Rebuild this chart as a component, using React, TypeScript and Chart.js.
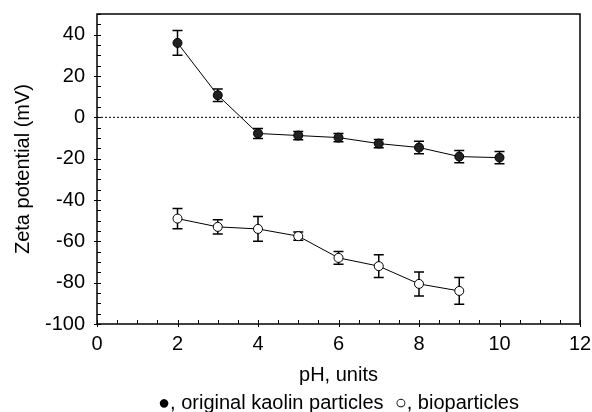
import React, { useEffect, useRef } from "react";
import { Chart, registerables } from "chart.js";

Chart.register(...registerables);

const phKaolin = [2, 3, 4, 5, 6, 7, 8, 9, 10];
const zetaKaolin = [36, 10.7, -7.8, -8.8, -9.8, -12.7, -14.6, -19, -19.5];
const errKaolin = [6, 3, 2.4, 2, 2, 2, 3, 3, 3];

const phBio = [2, 3, 4, 5, 6, 7, 8, 9];
const zetaBio = [-49, -53, -54, -57.5, -68, -72, -80.6, -84];
const errBio = [4.9, 3.4, 6, 2, 3.1, 5.5, 5.8, 6.5];

const xTickValues = [0, 2, 4, 6, 8, 10, 12];
const yTickValues = [-100, -80, -60, -40, -20, 0, 20, 40];

const xTitle = "pH, units";
const yTitle = "Zeta potential (mV)";
const legendText = "\u25CF, original kaolin particles  \u25CB, bioparticles";

const FONT = "'Liberation Sans', Arial, Helvetica, sans-serif";

const errorBarPlugin = {
  id: "errorBars",
  beforeDatasetsDraw(chart: any) {
    const ctx = chart.ctx;
    const xs = chart.scales.x;
    const ys = chart.scales.y;
    const sets = [
      { px: phKaolin, py: zetaKaolin, pe: errKaolin },
      { px: phBio, py: zetaBio, pe: errBio },
    ];
    ctx.save();
    ctx.strokeStyle = "#000";
    ctx.lineWidth = 1.5;
    for (const s of sets) {
      s.px.forEach((xv, i) => {
        const x = xs.getPixelForValue(xv);
        const y1 = ys.getPixelForValue(s.py[i] + s.pe[i]);
        const y2 = ys.getPixelForValue(s.py[i] - s.pe[i]);
        ctx.beginPath();
        ctx.moveTo(x, y1);
        ctx.lineTo(x, y2);
        ctx.moveTo(x - 5, y1);
        ctx.lineTo(x + 5, y1);
        ctx.moveTo(x - 5, y2);
        ctx.lineTo(x + 5, y2);
        ctx.stroke();
      });
    }
    ctx.restore();
  },
};

const framePlugin = {
  id: "frame",
  afterDraw(chart: any) {
    const ctx = chart.ctx;
    const ca = chart.chartArea;
    const xs = chart.scales.x;
    const ys = chart.scales.y;
    ctx.save();
    ctx.strokeStyle = "#000";
    ctx.lineWidth = 1.5;
    ctx.strokeRect(ca.left, ca.top, ca.right - ca.left, ca.bottom - ca.top);
    ctx.lineWidth = 1;
    ctx.beginPath();
    for (let v = 0; v <= 12.001; v += 0.5) {
      const x = Math.round(xs.getPixelForValue(v)) + 0.5;
      const major = Math.abs(v - Math.round(v / 2) * 2) < 1e-6;
      ctx.moveTo(x, ca.bottom - 4);
      ctx.lineTo(x, ca.bottom + (major ? 3 : 0));
    }
    for (let v = -100; v <= 50.001; v += 5) {
      const y = Math.round(ys.getPixelForValue(v)) + 0.5;
      const major = v % 20 === 0 && v <= 40;
      ctx.moveTo(ca.left - (major ? 3 : 0), y);
      ctx.lineTo(ca.left + 4, y);
    }
    ctx.stroke();

    ctx.fillStyle = "#000";
    ctx.font = `20px ${FONT}`;
    ctx.textAlign = "center";
    ctx.textBaseline = "middle";
    const cx = (ca.left + ca.right) / 2;
    ctx.fillText(xTitle, cx, 375);
    ctx.fillText(legendText, cx, 403);

    ctx.translate(23, (ca.top + ca.bottom) / 2);
    ctx.rotate(-Math.PI / 2);
    ctx.fillText(yTitle, 0, 0);
    ctx.restore();
  },
};

export default function App() {
  const ref = useRef<HTMLCanvasElement | null>(null);

  useEffect(() => {
    document.body.style.margin = "0";
    if (!ref.current) return;
    const chart = new Chart(ref.current, {
      type: "scatter",
      data: {
        datasets: [
          {
            label: "zero",
            data: [
              { x: 0, y: 0 },
              { x: 12, y: 0 },
            ],
            showLine: true,
            borderColor: "#000",
            borderWidth: 1,
            borderDash: [2, 2],
            pointRadius: 0,
          },
          {
            label: "original kaolin particles",
            data: phKaolin.map((x, i) => ({ x, y: zetaKaolin[i] })),
            showLine: true,
            borderColor: "#000",
            borderWidth: 1,
            pointRadius: 4.5,
            pointBackgroundColor: "#222",
            pointBorderColor: "#000",
            pointBorderWidth: 1,
          },
          {
            label: "bioparticles",
            data: phBio.map((x, i) => ({ x, y: zetaBio[i] })),
            showLine: true,
            borderColor: "#000",
            borderWidth: 1,
            pointRadius: 4.5,
            pointBackgroundColor: "#fff",
            pointBorderColor: "#000",
            pointBorderWidth: 1,
          },
        ],
      },
      options: {
        animation: false,
        responsive: true,
        maintainAspectRatio: false,
        layout: { padding: { top: 14, right: 12, left: 0, bottom: 0 } },
        plugins: { legend: { display: false }, tooltip: { enabled: false } },
        scales: {
          x: {
            type: "linear",
            min: 0,
            max: 12,
            grid: { display: false, drawTicks: false },
            border: { display: false },
            afterBuildTicks: (s: any) => {
              s.ticks = xTickValues.map((v) => ({ value: v }));
            },
            afterFit: (s: any) => {
              s.height = 88;
              s.paddingLeft = 0;
              s.paddingRight = 0;
            },
            ticks: {
              padding: 8,
              color: "#000",
              font: { family: FONT, size: 20 },
            },
          },
          y: {
            type: "linear",
            min: -100,
            max: 50,
            grid: { display: false, drawTicks: false },
            border: { display: false },
            afterBuildTicks: (s: any) => {
              s.ticks = yTickValues.map((v) => ({ value: v }));
            },
            afterFit: (s: any) => {
              s.width = 97;
              s.paddingTop = 0;
              s.paddingBottom = 0;
            },
            ticks: {
              padding: 12,
              color: "#000",
              font: { family: FONT, size: 20 },
            },
          },
        },
      },
      plugins: [errorBarPlugin, framePlugin],
    });
    return () => chart.destroy();
  }, []);

  return (
    <div style={{ width: 592, height: 412, position: "relative" }}>
      <canvas ref={ref} />
    </div>
  );
}
